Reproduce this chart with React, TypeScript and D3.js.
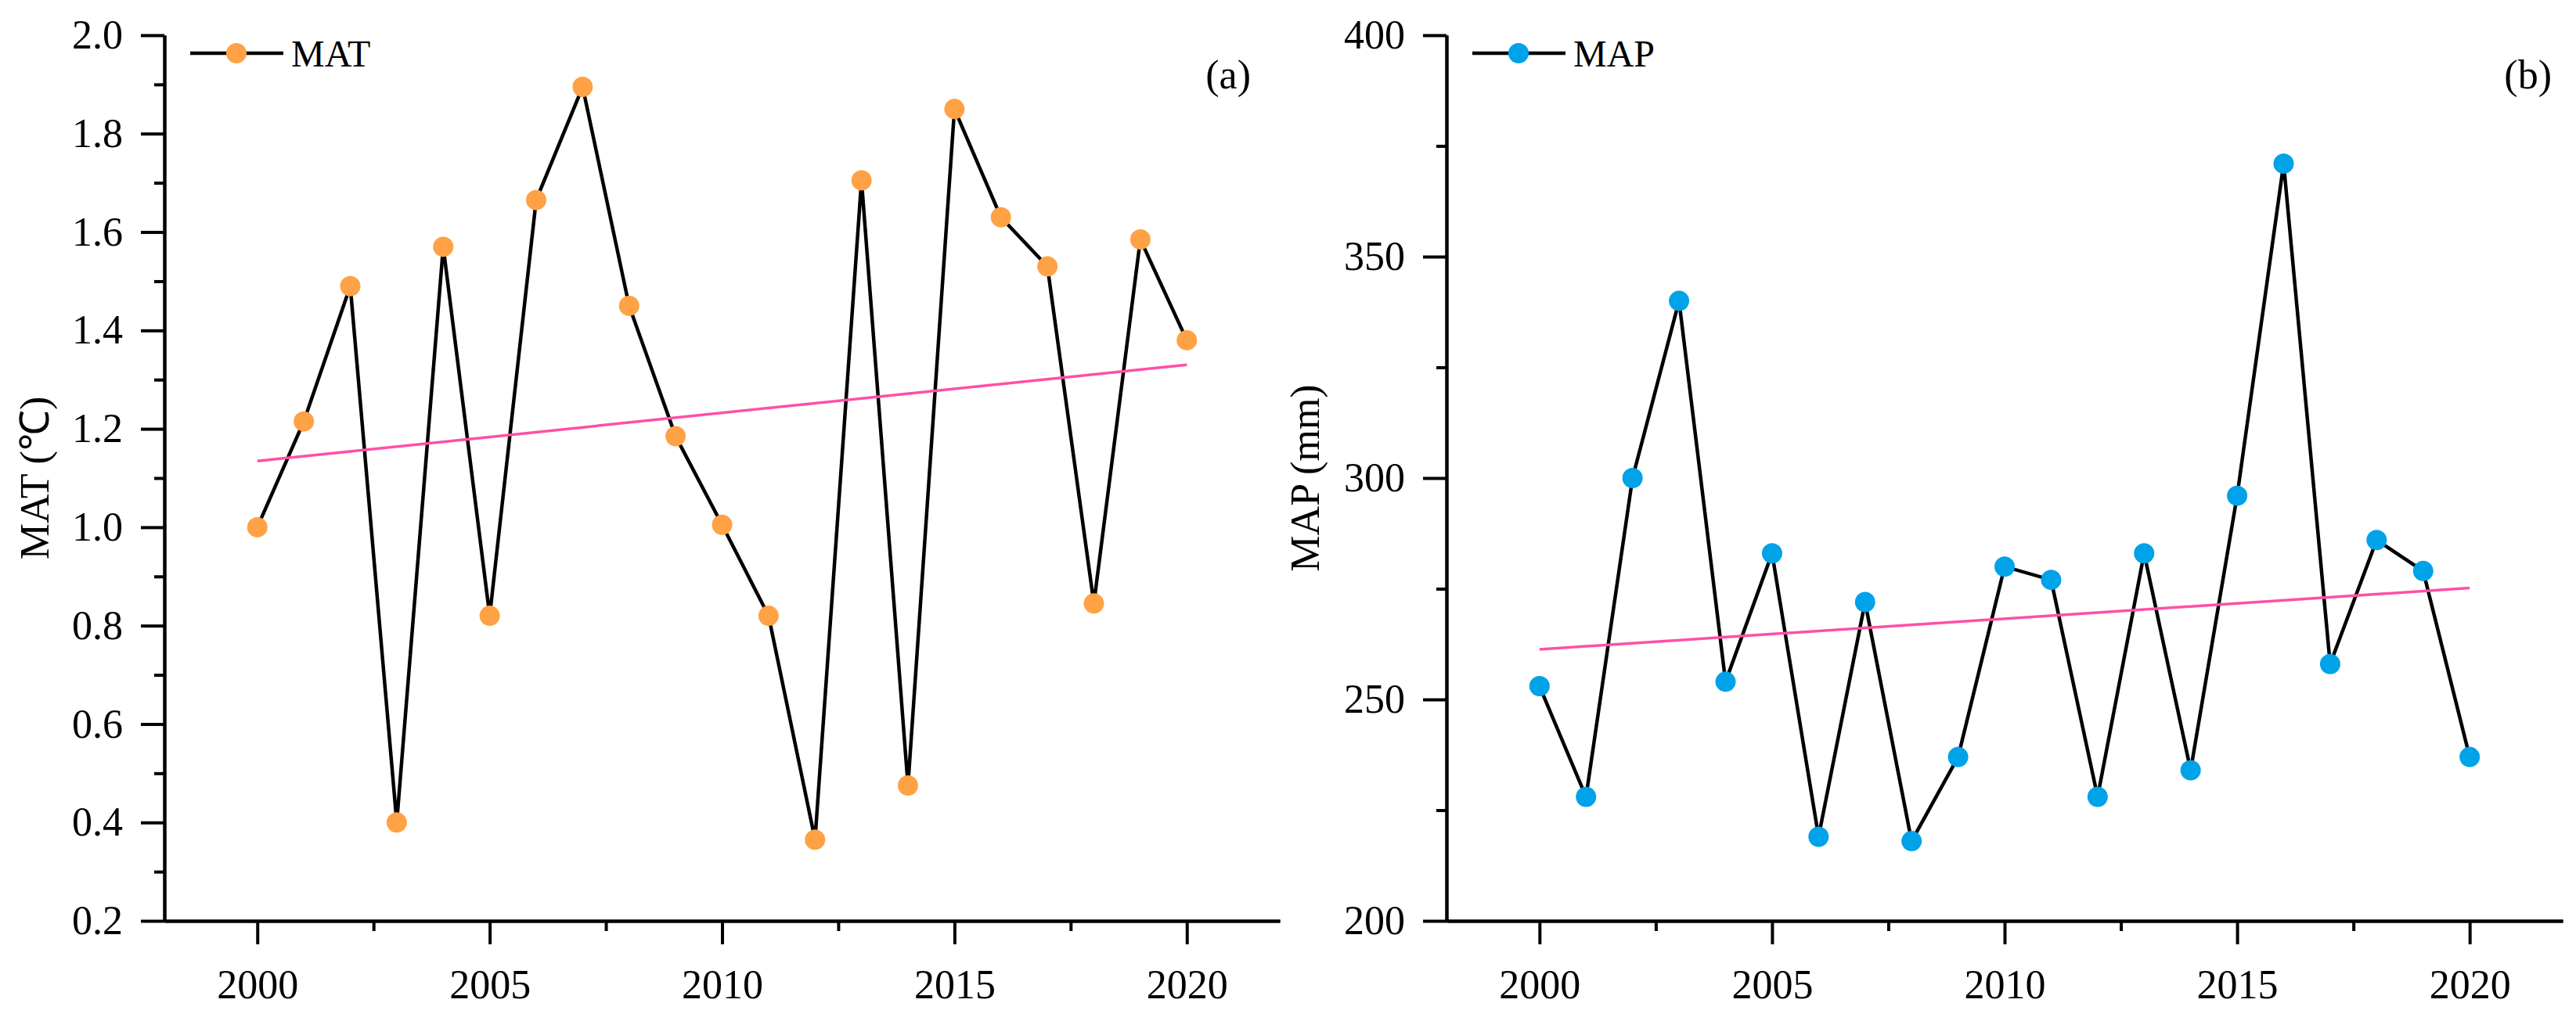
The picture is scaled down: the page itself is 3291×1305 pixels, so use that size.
import React, { useEffect, useRef } from 'react';
import * as d3 from 'd3';

// values
const years = [2000, 2001, 2002, 2003, 2004, 2005, 2006, 2007, 2008, 2009, 2010,
  2011, 2012, 2013, 2014, 2015, 2016, 2017, 2018, 2019, 2020];

const matValues = [1.0, 1.215, 1.49, 0.40, 1.57, 0.82, 1.665, 1.895, 1.45, 1.185, 1.005,
  0.82, 0.365, 1.705, 0.475, 1.85, 1.63, 1.53, 0.845, 1.585, 1.38];

const mapValues = [253, 228, 300, 340, 254, 283, 219, 272, 218, 237, 280,
  277, 228, 283, 234, 296, 371, 258, 286, 279, 237];

const xMajorTicks = [2000, 2005, 2010, 2015, 2020];
const xMinorTicks = [2002.5, 2007.5, 2012.5, 2017.5];
const matMajorTicks = [0.2, 0.4, 0.6, 0.8, 1.0, 1.2, 1.4, 1.6, 1.8, 2.0];
const matMinorTicks = [0.3, 0.5, 0.7, 0.9, 1.1, 1.3, 1.5, 1.7, 1.9];
const mapMajorTicks = [200, 250, 300, 350, 400];
const mapMinorTicks = [225, 275, 325, 375];

const FONT = '"Liberation Serif", "Times New Roman", serif';

interface PanelSpec {
  left: number;
  right: number;
  values: number[];
  yDomain: [number, number];
  major: number[];
  minor: number[];
  fmt: (d: number) => string;
  color: string;
  name: string;
  title: string;
  titleX: number;
  tag: string;
  tagX: number;
}

function linearFit(xs: number[], ys: number[]) {
  const mx = d3.mean(xs) as number;
  const my = d3.mean(ys) as number;
  let sxy = 0;
  let sxx = 0;
  xs.forEach((x, i) => {
    sxy += (x - mx) * (ys[i] - my);
    sxx += (x - mx) * (x - mx);
  });
  const b = sxy / sxx;
  return (x: number) => my + b * (x - mx);
}

export default function App() {
  const svgRef = useRef<SVGSVGElement>(null);

  useEffect(() => {
    if (!svgRef.current) return;
    const svg = d3.select(svgRef.current);
    svg.selectAll('*').remove();

    const top = 45;
    const bottom = 1177;

    const panels: PanelSpec[] = [
      {
        left: 210, right: 1635, values: matValues, yDomain: [0.2, 2.0],
        major: matMajorTicks, minor: matMinorTicks, fmt: d3.format('.1f'),
        color: '#FFA245', name: 'MAT', title: 'MAT (℃)', titleX: 62,
        tag: '(a)', tagX: 1598,
      },
      {
        left: 1848, right: 3274, values: mapValues, yDomain: [200, 400],
        major: mapMajorTicks, minor: mapMinorTicks, fmt: d3.format('d'),
        color: '#00A2E8', name: 'MAP', title: 'MAP (mm)', titleX: 1685,
        tag: '(b)', tagX: 3260,
      },
    ];

    panels.forEach(p => {
      const g = svg.append('g');

      const x = d3.scaleLinear().domain([1998, 2022]).range([p.left, p.right]);
      const y = d3.scaleLinear().domain(p.yDomain).range([bottom, top]);

      // minor ticks first
      g.append('g')
        .attr('transform', `translate(0,${bottom})`)
        .call(d3.axisBottom(x).tickValues(xMinorTicks).tickSize(13).tickSizeOuter(0).tickFormat(() => ''));
      g.append('g')
        .attr('transform', `translate(${p.left},0)`)
        .call(d3.axisLeft(y).tickValues(p.minor).tickSize(13).tickSizeOuter(0).tickFormat(() => ''));

      // major ticks + labels
      g.append('g')
        .attr('transform', `translate(0,${bottom})`)
        .call(d3.axisBottom(x).tickValues(xMajorTicks).tickSize(30).tickPadding(32)
          .tickSizeOuter(0).tickFormat((d: any) => String(d)));
      g.append('g')
        .attr('transform', `translate(${p.left},0)`)
        .call(d3.axisLeft(y).tickValues(p.major).tickSize(30).tickPadding(23)
          .tickSizeOuter(0).tickFormat((d: any) => p.fmt(d)));

      g.selectAll('.domain').attr('stroke', '#000').attr('stroke-width', 4);
      g.selectAll('.tick line').attr('stroke', '#000').attr('stroke-width', 4);
      g.selectAll('.tick text')
        .attr('fill', '#000')
        .style('font-family', FONT)
        .style('font-size', '52px');

      // axis title
      g.append('text')
        .attr('transform', `translate(${p.titleX},${(top + bottom) / 2}) rotate(-90)`)
        .attr('text-anchor', 'middle')
        .style('font-family', FONT)
        .style('font-size', '52px')
        .text(p.title);

      // data line
      const pts = years.map((yr, i) => [yr, p.values[i]] as [number, number]);
      const line = d3.line<[number, number]>()
        .x(d => x(d[0]))
        .y(d => y(d[1]));
      g.append('path')
        .datum(pts)
        .attr('fill', 'none')
        .attr('stroke', '#000')
        .attr('stroke-width', 4.5)
        .attr('stroke-linejoin', 'miter')
        .attr('d', line);

      // markers
      g.selectAll('.dot')
        .data(pts)
        .enter().append('circle')
        .attr('class', 'dot')
        .attr('cx', d => x(d[0]))
        .attr('cy', d => y(d[1]))
        .attr('r', 13)
        .attr('fill', p.color);

      // linear trend
      const fit = linearFit(years, p.values);
      const x0 = years[0];
      const x1 = years[years.length - 1];
      g.append('line')
        .attr('x1', x(x0)).attr('y1', y(fit(x0)))
        .attr('x2', x(x1)).attr('y2', y(fit(x1)))
        .attr('stroke', '#FF4FA7')
        .attr('stroke-width', 3.5);

      // legend
      const lx = p.left + 33;
      const ly = 68;
      g.append('line')
        .attr('x1', lx).attr('x2', lx + 119)
        .attr('y1', ly).attr('y2', ly)
        .attr('stroke', '#000').attr('stroke-width', 4.5);
      g.append('circle')
        .attr('cx', lx + 59).attr('cy', ly).attr('r', 13)
        .attr('fill', p.color);
      g.append('text')
        .attr('x', lx + 129).attr('y', 85)
        .style('font-family', FONT)
        .style('font-size', '48px')
        .text(p.name);

      // panel tag
      g.append('text')
        .attr('x', p.tagX).attr('y', 113)
        .attr('text-anchor', 'end')
        .style('font-family', FONT)
        .style('font-size', '52px')
        .text(p.tag);
    });
  }, []);

  return (
    <svg
      ref={svgRef}
      width={3291}
      height={1305}
      style={{ position: 'absolute', left: 0, top: 0, background: '#fff' }}
    />
  );
}
